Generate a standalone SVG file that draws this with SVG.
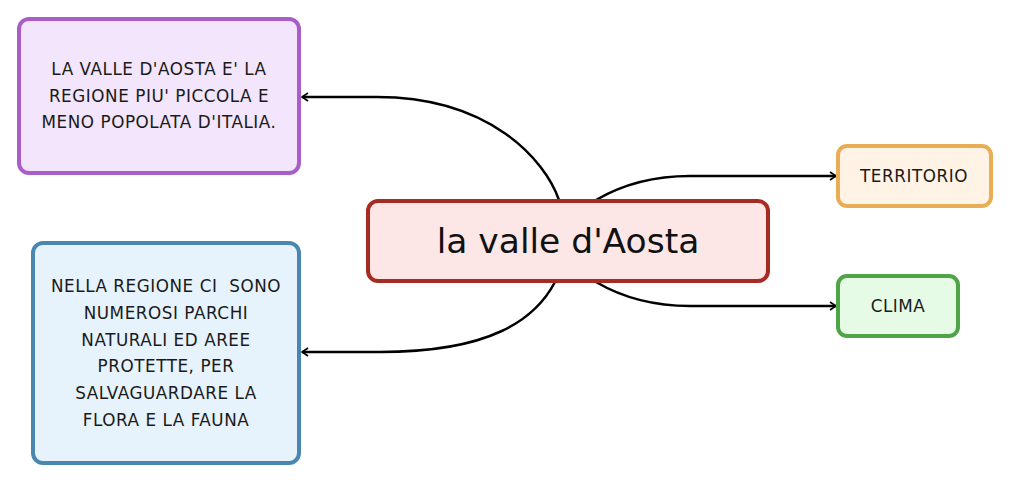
<svg xmlns="http://www.w3.org/2000/svg" width="1011" height="482" viewBox="0 0 1011 482">
<defs>
<style>
.box{stroke-width:4}
.t{font-family:"DejaVu Sans","Open Sans",sans-serif;font-size:16.8px;letter-spacing:0.55px;fill:#1a1a1a;text-anchor:middle}
.c{fill:none;stroke:#000;stroke-width:2.5}
</style>
<marker id="arr" markerWidth="10" markerHeight="10" refX="7" refY="5" orient="auto" markerUnits="userSpaceOnUse">
<path d="M1,1 L7,5 L1,9" fill="none" stroke="#000" stroke-width="1.6"/>
</marker>
</defs>
<rect width="1011" height="482" fill="#fff"/>
<g id="connectors">
<path class="c" d="M559,200 C545,160 490,97 377,97 L302,97" marker-end="url(#arr)"/>
<path class="c" d="M555,282 C535,320 490,352 380,352 L302,352" marker-end="url(#arr)"/>
<path class="c" d="M596,200 C625,183 655,176 690,176 L836,176" marker-end="url(#arr)"/>
<path class="c" d="M596,282 C625,299 655,306 690,306 L836,306" marker-end="url(#arr)"/>
</g>
<g id="n-regione">
<rect class="box" x="19" y="19" width="280" height="154" rx="10" fill="#f3e5fb" stroke="#a95ec7"/>
<text class="t" x="159" y="75">LA VALLE D'AOSTA E' LA</text>
<text class="t" x="159" y="101.5">REGIONE PIU' PICCOLA E</text>
<text class="t" x="159" y="128">MENO POPOLATA D'ITALIA.</text>
</g>
<g id="n-parchi">
<rect class="box" x="33" y="243" width="266" height="220" rx="10" fill="#e6f2fc" stroke="#4a87b0"/>
<text class="t" x="166" y="292" xml:space="preserve" style="white-space:pre">NELLA REGIONE CI  SONO</text>
<text class="t" x="166" y="319">NUMEROSI PARCHI</text>
<text class="t" x="166" y="345.5">NATURALI ED AREE</text>
<text class="t" x="166" y="372">PROTETTE, PER</text>
<text class="t" x="166" y="399">SALVAGUARDARE LA</text>
<text class="t" x="166" y="426">FLORA E LA FAUNA</text>
</g>
<g id="n-centro">
<rect class="box" x="368" y="201" width="400" height="80" rx="10" fill="#fde6e6" stroke="#a62b22"/>
<text x="568" y="253" style="font-family:'DejaVu Sans','Open Sans',sans-serif;font-size:34.5px;fill:#111;text-anchor:middle">la valle d'Aosta</text>
</g>
<g id="n-territorio">
<rect class="box" x="838" y="146" width="153" height="60" rx="9" fill="#fff3e6" stroke="#e8ad55"/>
<text class="t" x="914" y="182">TERRITORIO</text>
</g>
<g id="n-clima">
<rect class="box" x="838" y="276" width="120" height="60" rx="9" fill="#e6fbe6" stroke="#4ea447"/>
<text class="t" x="898" y="312">CLIMA</text>
</g>
</svg>
